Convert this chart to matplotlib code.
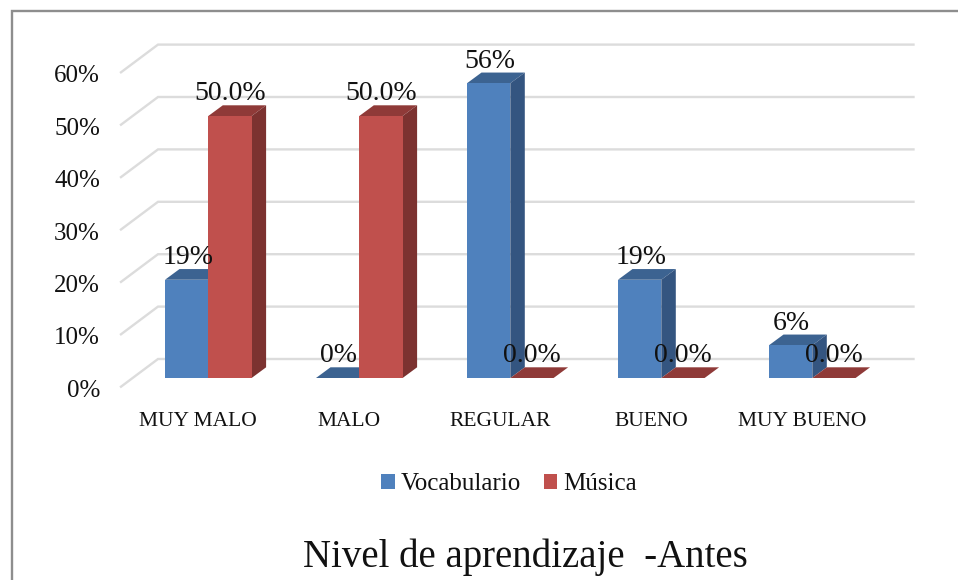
import matplotlib
matplotlib.use("Agg")
import matplotlib.pyplot as plt
from matplotlib.patches import Polygon, Patch

categories = ["MUY MALO", "MALO", "REGULAR", "BUENO", "MUY BUENO"]
vocabulario = [18.75, 0, 56.25, 18.75, 6.25]
musica = [50, 50, 0, 0, 0]
y_ticks = [0, 10, 20, 30, 40, 50, 60]
title = "Nivel de aprendizaje  -Antes"

plt.rcParams["font.family"] = ["Liberation Serif", "DejaVu Serif"]

W, H = 958, 580
PX_X = 151.0      # pixels per category
PX_Y = 5.24       # pixels per percent
X0, Y0 = 208.3, 378.0   # pixel of category 0 / 0 % on the bar plane

fig = plt.figure(figsize=(W / 100, H / 100), dpi=100, facecolor="white")
ax = fig.add_axes([0, 0, 1, 1])
ax.set_xlim(-X0 / PX_X, (W - X0) / PX_X)
ax.set_ylim((Y0 - H) / PX_Y, Y0 / PX_Y)
ax.axis("off")

# depth geometry in data units
bar_w = 43.3 / PX_X
dep_x, dep_y = 14.5 / PX_X, 10.7 / PX_Y
front_x, front_y = (121 - X0) / PX_X, -8.7 / PX_Y
back_x, back_y = (158 - X0) / PX_X, 19.0 / PX_Y
right_x = (913.5 - X0) / PX_X

# chart frame
ax.plot([11.5 / W, 11.5 / W, 1], [0, 1 - 11 / H, 1 - 11 / H], transform=ax.transAxes,
        color="#8e8e8e", lw=1.7, solid_joinstyle="miter", clip_on=False, zorder=1)

# walls
grid_c = "#dcdcdc"
for t in y_ticks:
    ax.plot([front_x, back_x, right_x], [t + front_y, t + back_y, t + back_y],
            color=grid_c, lw=1.7, solid_joinstyle="miter", zorder=2)
    ax.text((100 - X0) / PX_X, t + front_y - 4 / PX_Y, f"{t}%", ha="right", va="center",
            fontsize=18, color="#111111", zorder=6)


def bar3d(x0, v, front, side, top, z):
    x1 = x0 + bar_w
    ax.add_patch(Polygon([(x0, 0), (x1, 0), (x1, v), (x0, v)], closed=True,
                         fc=front, ec="none", zorder=z + 0.2))
    ax.add_patch(Polygon([(x1, 0), (x1 + dep_x, dep_y), (x1 + dep_x, v + dep_y), (x1, v)],
                         closed=True, fc=side, ec="none", zorder=z + 0.1))
    ax.add_patch(Polygon([(x0, v), (x1, v), (x1 + dep_x, v + dep_y), (x0 + dep_x, v + dep_y)],
                         closed=True, fc=top, ec="none", zorder=z))


blue = ("#4f81bd", "#345580", "#3c6391")
red = ("#c0504d", "#7c3230", "#8f3a38")
for i, (a, b) in enumerate(zip(vocabulario, musica)):
    bar3d(i - bar_w, a, *blue, z=3)
    bar3d(i, b, *red, z=3.5)
    ax.text(i - bar_w / 2 + 1 / PX_X, a + dep_y + 5 / PX_Y, f"{a:.0f}%", ha="center",
            va="baseline", fontsize=20, color="#111111", zorder=7)
    ax.text(i + bar_w / 2 + 0 / PX_X, b + dep_y + 5 / PX_Y, f"{b:.1f}%", ha="center",
            va="baseline", fontsize=20, color="#111111", zorder=7)
    ax.text(i - 10 / PX_X, (Y0 - 422) / PX_Y, categories[i], ha="center", va="center",
            fontsize=15.5, color="#111111", zorder=6)

# legend
handles = [Patch(fc=blue[0], ec="none", label="Vocabulario"),
           Patch(fc=red[0], ec="none", label="Música")]
ax.legend(handles=handles, loc="center", bbox_to_anchor=(509 / W, 1 - 484 / H), ncol=2,
          frameon=False, fontsize=18, handlelength=0.55, handleheight=0.55,
          handletextpad=0.25, columnspacing=0.9, labelcolor="#111111")

# title
ax.text(525.5 / W, 1 - 557 / H, title, transform=ax.transAxes, ha="center", va="center",
        fontsize=28, color="#111111")

fig.savefig("out.png", dpi=100)
